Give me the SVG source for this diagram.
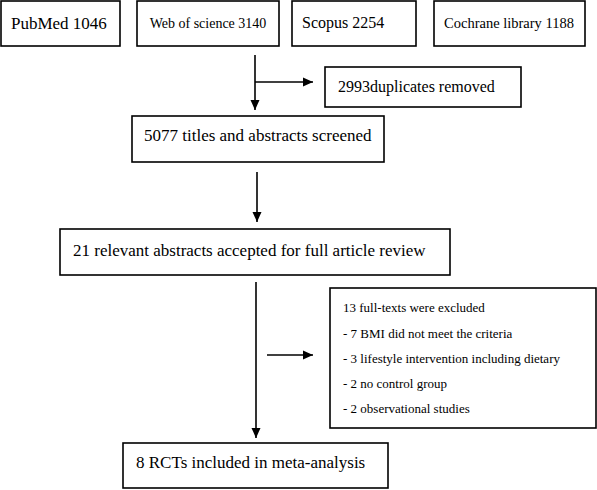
<svg xmlns="http://www.w3.org/2000/svg" width="597" height="490" viewBox="0 0 597 490">
<style>
.box{fill:#fff;stroke:#000;stroke-width:1.6}
.t{font-family:"Liberation Serif","Times New Roman",serif;fill:#000}
.ln{stroke:#000;stroke-width:1.6;fill:none}
</style>
<defs>
<marker id="ah" markerUnits="userSpaceOnUse" markerWidth="10" markerHeight="10" viewBox="0 0 10 10" refX="10" refY="5" orient="auto">
<path d="M0,0.5 L10,5 L0,9.5 Z" fill="#000"/>
</marker>
</defs>
<rect width="597" height="490" fill="#fff"/>
<g id="pubmed"><rect class="box" x="1" y="1" width="119" height="45"/><text class="t" x="11" y="29" font-size="17">PubMed 1046</text></g>
<g id="wos"><rect class="box" x="137" y="1" width="142" height="45"/><text class="t" x="208" y="28" font-size="14" text-anchor="middle">Web of science 3140</text></g>
<g id="scopus"><rect class="box" x="292" y="1" width="124" height="45"/><text class="t" x="302" y="28" font-size="16">Scopus 2254</text></g>
<g id="cochrane"><rect class="box" x="434" y="1" width="151" height="45"/><text class="t" x="509" y="28" font-size="14.5" text-anchor="middle">Cochrane library 1188</text></g>
<g id="duplicates"><rect class="box" x="325" y="67" width="196" height="40"/><text class="t" x="338" y="92" font-size="16">2993duplicates removed</text></g>
<g id="screened"><rect class="box" x="132" y="116" width="252" height="46"/><text class="t" x="144" y="141" font-size="17">5077 titles and abstracts screened</text></g>
<g id="fulltext"><rect class="box" x="60" y="229" width="390" height="46"/><text class="t" x="73" y="256" font-size="17">21 relevant abstracts accepted for full article review</text></g>
<g id="excluded"><rect class="box" x="330" y="288" width="266" height="140"/>
<text class="t" font-size="13"><tspan x="343" y="312">13 full-texts were excluded</tspan><tspan x="343" y="338">- 7 BMI did not meet the criteria</tspan><tspan x="343" y="363">- 3 lifestyle intervention including dietary</tspan><tspan x="343" y="388">- 2 no control group</tspan><tspan x="343" y="413">- 2 observational studies</tspan></text></g>
<g id="included"><rect class="box" x="123" y="443" width="265" height="45"/><text class="t" x="136" y="468" font-size="17">8 RCTs included in meta-analysis</text></g>
<g id="connectors">
<line class="ln" x1="255" y1="55" x2="255" y2="110" marker-end="url(#ah)"/>
<line class="ln" x1="255" y1="82" x2="313" y2="82" marker-end="url(#ah)"/>
<line class="ln" x1="257" y1="172" x2="257" y2="222" marker-end="url(#ah)"/>
<line class="ln" x1="256" y1="282" x2="256" y2="438" marker-end="url(#ah)"/>
<line class="ln" x1="267" y1="355" x2="313" y2="355" marker-end="url(#ah)"/>
</g>
</svg>
